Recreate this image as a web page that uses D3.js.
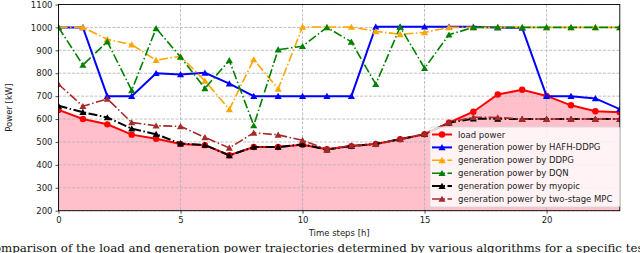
<!DOCTYPE html>
<html>
<head>
<meta charset="utf-8">
<script src="https://cdn.jsdelivr.net/npm/d3@7"></script>
<style>
  body { margin: 0; background: #fff; }
  svg { display: block; font-family: "DejaVu Sans", sans-serif; }
</style>
</head>
<body>
<div id="chart"></div>
<script>
// time steps 0..23
const steps = d3.range(0, 24);
const xTicks = [0, 5, 10, 15, 20];
const yTicks = [200, 300, 400, 500, 600, 700, 800, 900, 1000, 1100];

const loadPower = [640, 600, 577, 532, 514, 491, 486, 442, 478, 478, 488, 468,
  482, 491, 512, 534, 584, 632, 707, 728, 701, 660, 634, 630];
const hafhDdpg = [1000, 1000, 700, 700, 800, 795, 802, 755, 700, 700, 700, 700,
  700, 1003, 1003, 1003, 1003, 1003, 1000, 998, 700, 700, 690, 643];
const ddpg = [1000, 1000, 948, 925, 857, 874, 767, 642, 860, 732, 1002, 1002,
  1002, 983, 970, 978, 1000, 1000, 1000, 1000, 1000, 1000, 1000, 1000];
const dqn = [1000, 836, 938, 725, 996, 871, 734, 856, 572, 903, 918, 1000,
  937, 752, 1002, 822, 968, 1000, 1000, 1000, 1000, 1000, 1000, 1000];
const myopic = [658, 630, 607, 558, 534, 493, 487, 441, 478, 478, 490, 467,
  482, 491, 512, 534, 584, 602, 601, 600, 600, 600, 600, 600];
const twoStageMpc = [752, 656, 688, 585, 571, 568, 520, 474, 540, 531, 507, 468,
  484, 491, 512, 535, 585, 608, 607, 600, 600, 600, 600, 600];

const seriesNames = [
  'load power',
  'generation power by HAFH-DDPG',
  'generation power by DDPG',
  'generation power by DQN',
  'generation power by myopic',
  'generation power by two-stage MPC'
];

const W = 640, H = 253;
const plot = { left: 58.5, right: 619.8, top: 4.5, bottom: 210.7 };

const x = d3.scaleLinear().domain([0, 23]).range([plot.left, plot.right]);
const y = d3.scaleLinear().domain([200, 1100]).range([plot.bottom, plot.top]);

const svg = d3.select('#chart').append('svg')
  .attr('width', W)
  .attr('height', H);

const series = [
  { name: seriesNames[0], values: loadPower, color: '#ff0000', width: 2, dash: null, marker: 'circle' },
  { name: seriesNames[1], values: hafhDdpg, color: '#0000ff', width: 2, dash: null, marker: 'triangle' },
  { name: seriesNames[2], values: ddpg, color: '#ffa500', width: 1.6, dash: '9 2.5 1.5 2.5', marker: 'triangle' },
  { name: seriesNames[3], values: dqn, color: '#008000', width: 1.6, dash: '9 2.5 1.5 2.5', marker: 'triangle' },
  { name: seriesNames[4], values: myopic, color: '#000000', width: 2, dash: '9 2.5 1.5 2.5', marker: 'triangle' },
  { name: seriesNames[5], values: twoStageMpc, color: '#a52a2a', width: 1.6, dash: '9 2.5 1.5 2.5', marker: 'triangle' }
];

svg.append('clipPath').attr('id', 'plot-clip')
  .append('rect')
  .attr('x', plot.left).attr('y', plot.top)
  .attr('width', plot.right - plot.left)
  .attr('height', plot.bottom - plot.top);

// Pink area under the load curve
const area = d3.area()
  .x((d, i) => x(steps[i]))
  .y0(y(200))
  .y1(d => y(d));

svg.append('path')
  .datum(loadPower)
  .attr('d', area)
  .attr('fill', '#ffc0cb');

// Grid
const grid = svg.append('g').attr('class', 'grid');
grid.selectAll('.gx').data(xTicks).join('line')
  .attr('x1', d => x(d)).attr('x2', d => x(d))
  .attr('y1', plot.top).attr('y2', plot.bottom)
  .attr('stroke', '#b0b0b0').attr('stroke-width', 0.8)
  .attr('stroke-dasharray', '3 1.5');
grid.selectAll('.gy').data(yTicks).join('line')
  .attr('x1', plot.left).attr('x2', plot.right)
  .attr('y1', d => y(d)).attr('y2', d => y(d))
  .attr('stroke', '#b0b0b0').attr('stroke-width', 0.8)
  .attr('stroke-dasharray', '3 1.5');

// Lines + markers
const line = d3.line()
  .x((d, i) => x(steps[i]))
  .y(d => y(d));

const tri = d3.symbol().type(d3.symbolTriangle).size(22);

const marks = svg.append('g').attr('clip-path', 'url(#plot-clip)');
series.forEach(s => {
  marks.append('path')
    .datum(s.values)
    .attr('d', line)
    .attr('fill', 'none')
    .attr('stroke', s.color)
    .attr('stroke-width', s.width)
    .attr('stroke-dasharray', s.dash);
  const g = marks.append('g');
  if (s.marker === 'circle') {
    g.selectAll('circle').data(s.values).join('circle')
      .attr('cx', (d, i) => x(steps[i]))
      .attr('cy', d => y(d))
      .attr('r', 3.2)
      .attr('fill', s.color);
  } else {
    g.selectAll('path').data(s.values).join('path')
      .attr('transform', (d, i) => `translate(${x(steps[i])},${y(d) + 0.8})`)
      .attr('d', tri)
      .attr('fill', s.color);
  }
});

// Axes
const xAxis = d3.axisBottom(x).tickValues(xTicks).tickSize(3).tickPadding(3)
  .tickFormat(d3.format('d'));
const yAxis = d3.axisLeft(y).tickValues(yTicks).tickSize(3).tickPadding(3)
  .tickFormat(d3.format('d'));

const gx = svg.append('g')
  .attr('transform', `translate(0,${plot.bottom})`)
  .call(xAxis);
const gy = svg.append('g')
  .attr('transform', `translate(${plot.left},0)`)
  .call(yAxis);
[gx, gy].forEach(g => {
  g.select('.domain').remove();
  g.selectAll('text')
    .attr('font-size', 8.5)
    .attr('font-family', '"DejaVu Sans", sans-serif')
    .attr('fill', '#222');
  g.selectAll('line').attr('stroke', '#222').attr('stroke-width', 0.8);
});

// Frame
svg.append('rect')
  .attr('x', plot.left).attr('y', plot.top)
  .attr('width', plot.right - plot.left)
  .attr('height', plot.bottom - plot.top)
  .attr('fill', 'none')
  .attr('stroke', '#000')
  .attr('stroke-width', 0.9);

// Axis labels
svg.append('text')
  .attr('x', (plot.left + plot.right) / 2)
  .attr('y', 236)
  .attr('text-anchor', 'middle')
  .attr('font-size', 8.5)
  .attr('fill', '#222')
  .text('Time steps [h]');

svg.append('text')
  .attr('transform', `translate(12,${(plot.top + plot.bottom) / 2}) rotate(-90)`)
  .attr('text-anchor', 'middle')
  .attr('font-size', 8.5)
  .attr('fill', '#222')
  .text('Power [kW]');

// Legend
const legend = svg.append('g').attr('transform', 'translate(430,127)');
legend.append('rect')
  .attr('width', 190).attr('height', 80)
  .attr('rx', 2)
  .attr('fill', 'rgba(255,255,255,0.8)')
  .attr('stroke', '#d6d6d6')
  .attr('stroke-width', 0.8);

series.forEach((s, i) => {
  const row = legend.append('g').attr('transform', `translate(0,${7.5 + i * 12.9})`);
  row.append('line')
    .attr('x1', 2).attr('x2', 22)
    .attr('stroke', s.color)
    .attr('stroke-width', s.width)
    .attr('stroke-dasharray', s.dash);
  if (s.marker === 'circle') {
    row.append('circle').attr('cx', 12).attr('r', 3.2).attr('fill', s.color);
  } else {
    row.append('path').attr('transform', 'translate(12,0.8)').attr('d', tri).attr('fill', s.color);
  }
  row.append('text')
    .attr('x', 28)
    .attr('y', 3)
    .attr('font-size', 8.5)
    .attr('fill', '#222')
    .text(s.name);
});

// Caption, cut off on both sides like the source picture
const captionText = 'Comparison of the load and generation power trajectories determined by various algorithms for a specific test';
const caption = svg.append('text')
  .attr('y', 252)
  .attr('font-family', '"DejaVu Serif", serif')
  .attr('font-size', 12)
  .attr('fill', '#111')
  .text(captionText);
const headW = caption.node().getSubStringLength(0, 2);
const tailEnd = caption.node().getSubStringLength(0, captionText.length - 2);
// stretch so that "mparison" starts at x~1 and "te" ends at x~639
const k = (638 - 1) / (tailEnd - headW);
caption.attr('font-size', 12 * k).attr('x', 1 - headW * k);
</script>
</body>
</html>
